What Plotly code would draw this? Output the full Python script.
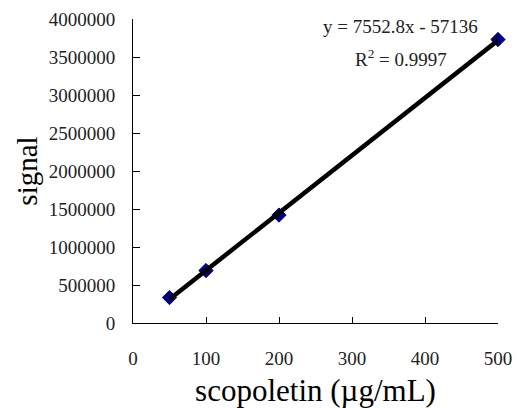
import numpy as np
import plotly.graph_objects as go

concentration = [50, 100, 200, 500]
signal = [335000, 690000, 1420000, 3730000]
equation_text = "y = 7552.8x - 57136"
r2_text = "R<sup>2</sup> = 0.9997"
x_title = "scopoletin (µg/mL)"
y_title = "signal"

FONT = "Liberation Serif, Times New Roman, serif"

slope, intercept = np.polyfit(concentration, signal, 1)
fit_x = [min(concentration), max(concentration)]
fit_y = [slope * v + intercept for v in fit_x]

fig = go.Figure()
fig.add_trace(go.Scatter(
    x=concentration, y=signal, mode="markers",
    marker=dict(symbol="diamond", size=11, color="#000080",
                line=dict(color="#000080", width=1)),
    showlegend=False, cliponaxis=False))
fig.add_trace(go.Scatter(
    x=fit_x, y=fit_y, mode="lines",
    line=dict(color="black", width=4.5),
    showlegend=False, cliponaxis=False))

fig.update_layout(
    width=517, height=408,
    margin=dict(l=133, r=19, t=19, b=85),
    paper_bgcolor="white", plot_bgcolor="white",
    font=dict(family=FONT, color="#222222", size=18),
    xaxis=dict(range=[0, 500], dtick=100, tick0=0, showgrid=False, zeroline=False,
               showline=True, linecolor="black", linewidth=1, automargin=False,
               ticks="inside", ticklen=6, tickcolor="black",
               ticklabelstandoff=18,
               tickfont=dict(family=FONT, size=19, color="#222222"),
               title=dict(text=x_title, font=dict(family=FONT, size=31, color="black"), standoff=15)),
    yaxis=dict(range=[0, 4000000], dtick=500000, tick0=0, showgrid=False, zeroline=False,
               showline=True, linecolor="black", linewidth=1, automargin=False,
               ticks="inside", ticklen=7, tickcolor="black", tickformat="d",
               ticklabelstandoff=13,
               tickfont=dict(family=FONT, size=19, color="#222222"),
               title=dict(text=y_title, font=dict(family=FONT, size=29, color="black"), standoff=2)),
    annotations=[
        dict(text=equation_text, xref="paper", yref="paper", x=0.734, y=0.974,
             xanchor="center", yanchor="middle", showarrow=False,
             font=dict(family=FONT, size=19, color="#222222")),
        dict(text=r2_text, xref="paper", yref="paper", x=0.734, y=0.872,
             xanchor="center", yanchor="middle", showarrow=False,
             font=dict(family=FONT, size=19, color="#222222")),
    ],
)

# remove the default 8px page margin so the figure fills the window exactly
fig.write_html("out.html",
               config={"displayModeBar": False},
               post_script="document.body.style.margin='0px';document.body.style.overflow='hidden';")
